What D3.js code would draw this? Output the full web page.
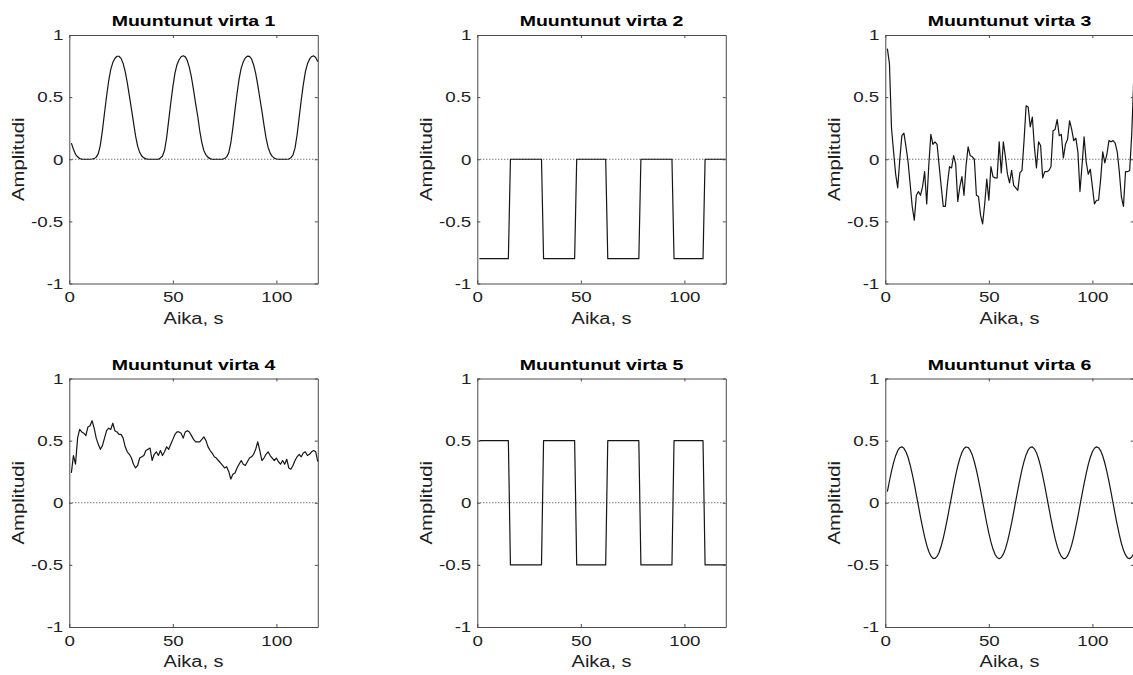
<!DOCTYPE html>
<html>
<head>
<meta charset="utf-8">
<script src="https://cdn.jsdelivr.net/npm/d3@7"></script>
<style>
  html, body { margin: 0; padding: 0; background: #fff; }
  svg { display: block; }
  text { font-family: "Liberation Sans", Arial, Helvetica, sans-serif; }
</style>
</head>
<body>
<svg id="chart" width="1133" height="675"></svg>
<script>
// ---- data ----------------------------------------------------------------
const titles = [
  "Muuntunut virta 1", "Muuntunut virta 2", "Muuntunut virta 3",
  "Muuntunut virta 4", "Muuntunut virta 5", "Muuntunut virta 6"
];
const xLabel = "Aika, s";
const yLabel = "Amplitudi";
const xTicks = [0, 50, 100];
const yTicks = [-1, -0.5, 0, 0.5, 1];

// sample instants, one per second
const sampleTimes = d3.range(1, 121);

const virta1 = [
  0.13, 0.08, 0.04, 0.02, 0.006, 0.001, 0, 0, 0, 0,
  0.002, 0.005, 0.017, 0.045, 0.114, 0.232, 0.372, 0.507, 0.628, 0.721,
  0.778, 0.811, 0.829, 0.829, 0.812, 0.771, 0.705, 0.616, 0.512, 0.406,
  0.297, 0.188, 0.106, 0.055, 0.026, 0.011, 0.003, 0, 0, 0,
  0, 0, 0, 0.010, 0.026, 0.072, 0.173, 0.313, 0.453, 0.582,
  0.691, 0.761, 0.801, 0.825, 0.833, 0.824, 0.794, 0.738, 0.658, 0.558,
  0.448, 0.348, 0.228, 0.134, 0.069, 0.035, 0.015, 0.005, 0, 0,
  0, 0, 0, 0, 0.006, 0.019, 0.052, 0.131, 0.255, 0.395,
  0.529, 0.647, 0.733, 0.784, 0.815, 0.830, 0.828, 0.807, 0.761, 0.691,
  0.599, 0.493, 0.389, 0.277, 0.172, 0.095, 0.049, 0.023, 0.009, 0.002,
  0, 0, 0, 0, 0, 0.002, 0.013, 0.034, 0.089, 0.197,
  0.337, 0.475, 0.601, 0.703, 0.768, 0.805, 0.827, 0.832, 0.819, 0.785
];

// square waves: corner points of the polyline
const stepTimes = [1, 15, 16, 31, 32, 47, 48, 62, 63, 78, 79, 94, 95, 109, 110, 120];
const virta2 = [-0.8, -0.8, 0, 0, -0.8, -0.8, 0, 0, -0.8, -0.8, 0, 0, -0.8, -0.8, 0, 0];
const virta5 = [0.5, 0.5, -0.5, -0.5, 0.5, 0.5, -0.5, -0.5, 0.5, 0.5, -0.5, -0.5, 0.5, 0.5, -0.5, -0.5];

const virta3 = [
  0.89, 0.77, 0.25, 0.06, -0.12, -0.23, 0.00, 0.19, 0.21, 0.10,
  -0.02, -0.20, -0.38, -0.49, -0.29, -0.26, -0.29, -0.22, -0.10, -0.36,
  -0.05, 0.20, 0.12, 0.14, 0.12, -0.05, -0.22, -0.38, -0.38, -0.20,
  -0.06, -0.07, 0.03, -0.04, -0.34, -0.22, -0.14, -0.29, -0.05, 0.10,
  0.03, 0.02, 0.00, -0.29, -0.30, -0.45, -0.52, -0.36, -0.16, -0.33,
  -0.06, -0.14, -0.15, -0.15, 0.14, -0.11, 0.14, 0.02, -0.12, -0.19,
  -0.09, -0.21, -0.23, -0.25, -0.11, -0.09, 0.15, 0.43, 0.42, 0.26,
  0.34, 0.10, -0.07, 0.14, 0.11, -0.15, -0.10, -0.10, -0.09, -0.06,
  0.23, 0.24, 0.32, 0.19, 0.20, 0.01, 0.12, 0.16, 0.31, 0.24,
  0.15, 0.17, 0.06, -0.26, -0.05, 0.18, -0.02, -0.12, -0.08, -0.22,
  -0.36, -0.33, -0.33, -0.16, 0.06, -0.03, 0.04, 0.15, 0.14, 0.15,
  0.13, 0.06, -0.10, -0.30, -0.38, -0.10, -0.10, -0.09, 0.20, 0.66
];

const virta4 = [
  0.24, 0.38, 0.31, 0.52, 0.59, 0.57, 0.56, 0.54, 0.61, 0.62,
  0.66, 0.60, 0.52, 0.47, 0.43, 0.46, 0.52, 0.58, 0.60, 0.59,
  0.64, 0.58, 0.57, 0.55, 0.55, 0.52, 0.45, 0.41, 0.39, 0.36,
  0.31, 0.28, 0.30, 0.36, 0.37, 0.38, 0.42, 0.43, 0.44, 0.34,
  0.39, 0.41, 0.38, 0.42, 0.38, 0.41, 0.45, 0.43, 0.47, 0.51,
  0.55, 0.57, 0.57, 0.56, 0.52, 0.57, 0.58, 0.57, 0.54, 0.51,
  0.49, 0.49, 0.49, 0.51, 0.53, 0.50, 0.45, 0.42, 0.40, 0.37,
  0.36, 0.34, 0.32, 0.30, 0.28, 0.29, 0.25, 0.19, 0.23, 0.24,
  0.28, 0.31, 0.34, 0.31, 0.30, 0.33, 0.36, 0.37, 0.39, 0.43,
  0.49, 0.42, 0.34, 0.36, 0.39, 0.41, 0.38, 0.36, 0.34, 0.36,
  0.33, 0.31, 0.34, 0.31, 0.35, 0.28, 0.27, 0.30, 0.34, 0.37,
  0.39, 0.37, 0.40, 0.41, 0.38, 0.39, 0.41, 0.42, 0.41, 0.33
];

const virta6 = [
  0.089, 0.175, 0.254, 0.323, 0.379, 0.419, 0.443, 0.450, 0.438, 0.409,
  0.364, 0.304, 0.232, 0.151, 0.064, -0.026, -0.115, -0.199, -0.275, -0.341,
  -0.392, -0.428, -0.447, -0.448, -0.432, -0.398, -0.348, -0.284, -0.209, -0.126,
  -0.037, 0.052, 0.140, 0.222, 0.296, 0.357, 0.404, 0.436, 0.449, 0.445,
  0.423, 0.385, 0.330, 0.263, 0.185, 0.100, 0.011, -0.078, -0.165, -0.245,
  -0.315, -0.373, -0.415, -0.441, -0.450, -0.441, -0.414, -0.371, -0.313, -0.241,
  -0.161, -0.075, 0.015, 0.104, 0.189, 0.266, 0.333, 0.387, 0.425, 0.446,
  0.449, 0.434, 0.403, 0.354, 0.293, 0.219, 0.136, 0.048, -0.042, -0.130,
  -0.212, -0.287, -0.349, -0.399, -0.432, -0.449, -0.447, -0.428, -0.391, -0.339,
  -0.272, -0.195, -0.111, -0.022, 0.067, 0.154, 0.235, 0.307, 0.366, 0.411,
  0.439, 0.450, 0.443, 0.418, 0.376, 0.320, 0.251, 0.172, 0.086, -0.004,
  -0.093, -0.178, -0.257, -0.326, -0.381, -0.420, -0.444, -0.450, -0.437, -0.408
];

const seriesTimes = [sampleTimes, stepTimes, sampleTimes, sampleTimes, stepTimes, sampleTimes];
const seriesValues = [virta1, virta2, virta3, virta4, virta5, virta6];

// ---- layout --------------------------------------------------------------
const colLeft = [69.3, 477.3, 885.3];
const rowTop = [35, 378.5];
const plotW = 248.5, plotH = 248.5;
const stretch = 1.25;            // horizontal glyph widening
const axisColor = "#4a4a4a";
const textColor = "#1e1e1e";

const svg = d3.select("#chart");
svg.append("rect").attr("width", 1133).attr("height", 675).attr("fill", "#fff");

function widenText(sel, sx) {
  sel.each(function () {
    const t = d3.select(this);
    const tx = +t.attr("x") || 0;
    const ty = +t.attr("y") || 0;
    t.attr("x", null).attr("y", null)
     .attr("transform", `translate(${tx},${ty}) scale(${sx},1)`);
  });
}

function styleAxis(ax) {
  ax.attr("font-family", null).attr("font-size", null);
  ax.select(".domain").attr("stroke", axisColor).attr("stroke-width", 1);
  ax.selectAll(".tick line").attr("stroke", axisColor).attr("stroke-width", 1);
  ax.selectAll(".tick text").attr("fill", textColor).style("font-size", "15px");
}

titles.forEach((title, i) => {
  const left = colLeft[i % 3];
  const top = rowTop[Math.floor(i / 3)];
  const g = svg.append("g").attr("transform", `translate(${left},${top})`);

  const x = d3.scaleLinear().domain([0, 120]).range([0, plotW]);
  const y = d3.scaleLinear().domain([-1, 1]).range([plotH, 0]);

  // dotted zero reference
  g.append("line")
    .attr("x1", x(0)).attr("x2", x(120))
    .attr("y1", y(0)).attr("y2", y(0))
    .attr("stroke", "#3a3a3a").attr("stroke-width", 1)
    .attr("stroke-dasharray", "1 2");

  // signal trace
  const pts = d3.zip(seriesTimes[i], seriesValues[i]);
  g.append("path")
    .datum(pts)
    .attr("fill", "none")
    .attr("stroke", "#151515")
    .attr("stroke-width", 1.2)
    .attr("stroke-linejoin", "round")
    .attr("d", d3.line().x(d => x(d[0])).y(d => y(d[1])));

  // boxed axes with inward ticks on all sides
  const fmt = d => String(d);
  const axB = g.append("g").attr("transform", `translate(0,${plotH})`)
    .call(d3.axisBottom(x).tickValues(xTicks).tickSizeInner(-3).tickSizeOuter(0)
      .tickPadding(8).tickFormat(fmt));
  const axL = g.append("g")
    .call(d3.axisLeft(y).tickValues(yTicks).tickSizeInner(-3).tickSizeOuter(0)
      .tickPadding(6).tickFormat(fmt));
  const axT = g.append("g")
    .call(d3.axisTop(x).tickValues(xTicks).tickSizeInner(-3).tickSizeOuter(0)
      .tickFormat(""));
  const axR = g.append("g").attr("transform", `translate(${plotW},0)`)
    .call(d3.axisRight(y).tickValues(yTicks).tickSizeInner(-3).tickSizeOuter(0)
      .tickFormat(""));
  [axB, axL, axT, axR].forEach(styleAxis);
  widenText(axB.selectAll(".tick text"), stretch);
  widenText(axL.selectAll(".tick text"), stretch);

  // title
  g.append("g").attr("transform", `translate(${plotW / 2},-9)`)
    .append("text")
    .attr("text-anchor", "middle")
    .attr("transform", `scale(1.26,1)`)
    .attr("fill", "#000")
    .style("font-size", "15.5px")
    .style("font-weight", "bold")
    .text(title);

  // x label
  g.append("g").attr("transform", `translate(${plotW / 2},${plotH + 40.3})`)
    .append("text")
    .attr("text-anchor", "middle")
    .attr("transform", `scale(${stretch},1)`)
    .attr("fill", textColor)
    .style("font-size", "16px")
    .text(xLabel);

  // y label
  g.append("g").attr("transform", `translate(-45.8,${plotH / 2}) rotate(-90)`)
    .append("text")
    .attr("text-anchor", "middle")
    .attr("transform", `scale(1.27,1)`)
    .attr("fill", textColor)
    .style("font-size", "16px")
    .text(yLabel);
});
</script>
</body>
</html>
